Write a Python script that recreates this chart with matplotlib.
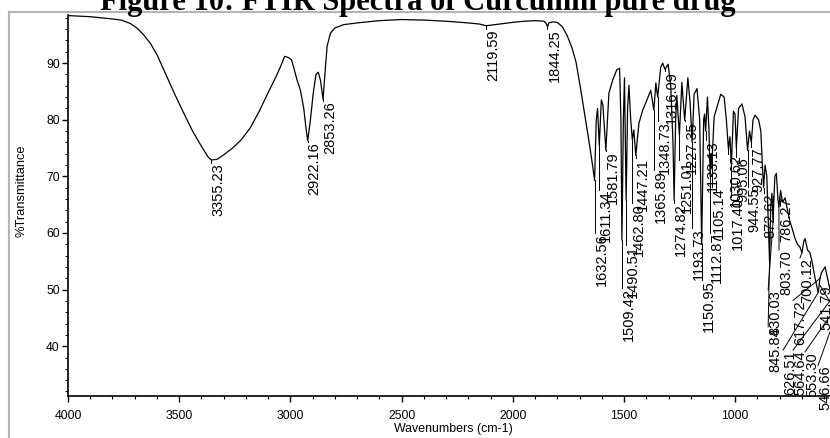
import matplotlib.pyplot as plt
from matplotlib.lines import Line2D
from matplotlib.ticker import MultipleLocator

# spectrum (wavenumber cm-1, %T)
wavenumber = [4000, 3950, 3900, 3850, 3800, 3760, 3720, 3690, 3660, 3630, 3600, 3560,
              3520, 3480, 3440, 3400, 3370, 3355.23, 3330, 3300, 3260, 3220, 3180, 3140,
              3100, 3060, 3040, 3026, 3010, 2995, 2985, 2970, 2955, 2940, 2930, 2922.16,
              2910, 2898, 2885, 2875, 2865, 2853.26, 2845, 2835, 2820, 2800, 2760, 2700,
              2600, 2500, 2400, 2300, 2200, 2150, 2119.59, 2080, 2000, 1950, 1900, 1860,
              1850, 1844.25, 1838, 1820, 1801, 1779, 1756, 1734, 1716, 1698, 1680, 1662,
              1648, 1640, 1632.56, 1625, 1619, 1611.34, 1602, 1595, 1581.79, 1568, 1551,
              1533, 1520, 1514, 1509.42, 1503, 1498, 1490.51, 1484, 1478, 1470, 1462.80,
              1456, 1447.21, 1433, 1416, 1397, 1380, 1365.89, 1357, 1348.73, 1335, 1326,
              1316.09, 1302, 1290, 1280, 1274.82, 1268, 1263, 1251.01, 1240, 1227.35, 1213,
              1203, 1193.73, 1185, 1172, 1160, 1150.95, 1142, 1138, 1133.13, 1125, 1118,
              1112.87, 1108, 1105.14, 1095, 1080, 1065, 1050, 1040, 1030.62, 1024, 1017.40,
              1008, 1001, 995.06, 985, 970, 956, 944.55, 936, 927.77, 920, 911, 895, 885,
              878, 872.62, 866, 858, 850, 845.84, 840, 835, 830.03, 822, 815, 808, 803.70,
              796, 790, 786.27, 776, 765, 754, 742, 731, 720, 709, 700.12, 692, 686, 675,
              664, 655, 641, 630, 626.51, 619, 612, 596, 585, 574, 565, 553, 546, 538]
transmittance = [98.4, 98.3, 98.2, 98.0, 97.8, 97.6, 97.0, 96.2, 95.0, 93.5, 91.5, 88.0,
                 84.5, 81.2, 78.0, 75.3, 73.4, 72.9, 73.0, 73.8, 75.0, 76.5, 78.6, 81.5,
                 84.8, 88.0, 89.8, 91.2, 91.0, 90.6, 89.2, 87.0, 85.2, 82.0, 78.5, 76.3,
                 80.0, 84.5, 88.0, 88.4, 87.0, 83.6, 88.0, 93.0, 95.3, 96.2, 96.8, 97.1,
                 97.5, 97.7, 97.6, 97.4, 97.1, 96.9, 96.6, 96.8, 97.2, 97.4, 97.5, 97.4,
                 97.0, 96.4, 97.1, 97.3, 97.2, 96.5, 94.9, 92.7, 90.2, 86.1, 81.7, 77.3,
                 73.7, 71.5, 69.3, 79.9, 82.0, 75.5, 83.5, 82.6, 74.6, 84.7, 87.0,
                 88.8, 89.1, 80.0, 58.7, 80.0, 87.4, 65.8, 82.0, 86.1, 80.0, 76.5,
                 78.2, 73.7, 79.4, 81.7, 83.5, 85.2, 81.7, 86.5, 84.0, 89.3, 90.0,
                 88.9, 89.8, 86.0, 76.0, 65.8, 80.0, 84.3, 77.3, 86.6, 79.9, 87.4,
                 83.0, 76.0, 84.5, 85.5, 80.0, 58.0, 80.0, 81.0, 78.0, 84.0, 78.0,
                 70.0, 74.0, 72.0, 80.5, 82.5, 84.5, 84.0, 80.0, 74.8, 77.0, 72.0,
                 81.5, 81.0, 75.0, 82.0, 82.8, 80.5, 74.6, 78.0, 76.0, 80.0, 80.8, 80.0, 78.0,
                 72.0, 68.0, 72.0, 70.0, 60.0, 55.0, 65.0, 67.0, 62.0, 70.0, 70.5, 66.0, 64.6,
                 67.5, 66.0, 65.5, 66.2, 64.0, 62.0, 60.5, 59.0, 58.0, 57.5, 56.5, 58.5, 59.0, 57.0,
                 56.5, 55.0, 52.0, 50.0, 49.5, 52.0, 53.0, 54.0, 52.0, 50.0, 48.0, 46.5, 45.0, 46.0]

# peak labels: text, peak position, and where the label top sits
peak_text = ['3355.23', '2922.16', '2853.26', '2119.59', '1844.25', '1632.56', '1611.34',
             '1581.79', '1509.42', '1490.51', '1462.80', '1447.21', '1365.89', '1348.73',
             '1316.09', '1274.82', '1251.01', '1227.35', '1193.73', '1150.95', '1133.13',
             '1112.87', '1105.14', '1030.62', '1017.40', '995.06', '944.55', '927.77',
             '872.62', '845.84', '830.03', '803.70', '786.27', '700.12', '617.72',
             '626.51', '564.64', '553.30', '546.66', '541.79']
peak_wn = [3355.23, 2922.16, 2853.26, 2119.59, 1844.25, 1632.56, 1611.34, 1581.79, 1509.42,
           1490.51, 1462.80, 1447.21, 1365.89, 1348.73, 1316.09, 1274.82, 1251.01, 1227.35,
           1193.73, 1150.95, 1133.13, 1112.87, 1105.14, 1030.62, 1017.40, 995.06, 944.55,
           927.77, 872.62, 845.84, 830.03, 803.70, 786.27, 700.12, 617.72, 626.51, 564.64,
           553.30, 546.66, 541.79]
peak_t = [72.9, 76.3, 83.6, 96.6, 96.4, 69.3, 75.5, 74.6, 58.7, 65.8, 76.5, 73.7, 81.7, 84.0,
          88.9, 65.8, 77.3, 79.9, 76.0, 58.0, 78.0, 70.0, 72.0, 74.8, 72.0, 75.0, 74.6, 76.0,
          68.0, 55.0, 62.0, 64.6, 65.5, 56.5, 52.0, 49.5, 48.5, 46.5, 45.5, 45.8]

# label anchor (left edge of the rotated text, top of the text)
label_wn = [3355.23, 2922.16, 2853.26, 2119.59, 1844.25, 1632.56, 1611.34, 1581.79, 1509.42,
            1490.51, 1462.80, 1447.21, 1365.89, 1348.73, 1316.09, 1274.82, 1251.01, 1227.35,
            1193.73, 1150.95, 1133.13, 1112.87, 1105.14, 1030.62, 1017.40, 995.06, 944.55,
            927.77, 872.62, 852, 852, 803, 803, 709, 740, 785, 740, 686, 628, 620]
label_t = [72.3, 76.0, 83.3, 96.0, 96.0, 60.0, 67.6, 74.4, 50.2, 57.8, 65.3, 73.2, 71.1, 79.8,
           88.6, 65.3, 72.9, 79.7, 60.8, 51.7, 76.4, 60.0, 68.1, 74.0, 66.3, 73.4, 68.1, 75.2,
           67.0, 43.4, 49.9, 57.0, 66.3, 55.6, 48.1, 39.3, 39.3, 39.0, 36.6, 50.8]

W, H = 830, 438
fig = plt.figure(figsize=(W / 100, H / 100), dpi=100)
plt.rcParams['font.family'] = ['Liberation Sans', 'DejaVu Sans']

# axes runs past the right edge of the picture (cropped scan)
ax = fig.add_axes([68 / W, (H - 396) / H, 770 / W, (396 - 15) / H])
ax.plot(wavenumber, transmittance, color='black', lw=0.9)
ax.set_xlim(4000, 538)
ax.set_ylim(31.2, 98.5)

for txt, pw, pt, lw_, lt in zip(peak_text, peak_wn, peak_t, label_wn, label_t):
    ax.plot([pw, lw_], [pt, lt], color='black', lw=0.7)
    ax.text(lw_, lt, txt, rotation=90, ha='left', va='top', fontsize=10.5)

ax.spines['top'].set_visible(False)
ax.spines['right'].set_visible(False)
ax.spines['left'].set_linewidth(1.2)
ax.spines['bottom'].set_linewidth(1.2)
ax.xaxis.set_major_locator(MultipleLocator(500))
ax.xaxis.set_minor_locator(MultipleLocator(100))
ax.yaxis.set_major_locator(MultipleLocator(10))
ax.yaxis.set_minor_locator(MultipleLocator(2))
ax.tick_params(which='major', length=4, width=1, labelsize=8.8)
ax.tick_params(which='minor', length=2.5, width=0.8)
ax.tick_params(axis='x', pad=6)
ax.tick_params(axis='y', pad=2)
ax.set_xlabel('Wavenumbers (cm-1)', fontsize=8.9, labelpad=1)
ax.set_ylabel('%Transmittance', fontsize=9.3)
ax.yaxis.set_label_coords(-0.052, 0.54)

# grey border of the scanned figure
fig.add_artist(Line2D([9 / W, 9 / W], [0, 1 - 12 / H], color='#b4b4b4', lw=1.5))
fig.add_artist(Line2D([9 / W, 1], [1 - 12 / H, 1 - 12 / H], color='#b4b4b4', lw=1.5))

fig.text(418 / W, 1 - 10 / H, 'Figure 10: FTIR Spectra of Curcumin pure drug',
         ha='center', va='baseline', fontsize=22, fontweight='bold',
         family='Liberation Serif')

fig.savefig('out.png', dpi=100)
